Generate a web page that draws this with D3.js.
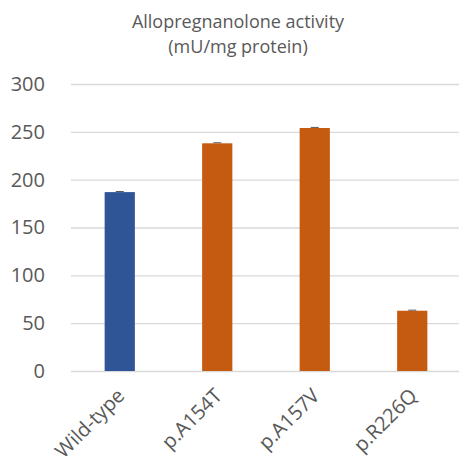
<!DOCTYPE html>
<html>
<head>
<meta charset="utf-8">
<script src="https://cdn.jsdelivr.net/npm/d3@7"></script>
<style>
  body { margin: 0; background: #fff; }
  text { font-family: "Open Sans", "Noto Sans", sans-serif; }
</style>
</head>
<body>
<div id="chart"></div>
<script>
const categories = ['Wild-type', 'p.A154T', 'p.A157V', 'p.R226Q'];
const values = [187, 238, 254, 63];
const errors = [0.6, 0.6, 0.6, 0.6];
const barColors = ['#2F5597', '#C55A11', '#C55A11', '#C55A11'];
const yTicks = [0, 50, 100, 150, 200, 250, 300];

const width = 459, height = 470;
const margin = {top: 84, right: -2, bottom: 99, left: 71};
const innerW = width - margin.left - margin.right;
const innerH = height - margin.top - margin.bottom;

const svg = d3.select('#chart').append('svg')
    .attr('width', width)
    .attr('height', height);

const chart = svg.append('g')
    .attr('transform', `translate(${margin.left},${margin.top})`);

const x = d3.scaleBand()
    .domain(categories)
    .range([0, innerW])
    .paddingInner(0.69)
    .paddingOuter(0.345);

const y = d3.scaleLinear()
    .domain([0, 300])
    .range([innerH, 0]);

// gridlines
chart.append('g')
    .call(d3.axisLeft(y).tickValues(yTicks).tickSize(-innerW).tickFormat(''))
    .call(g => g.select('.domain').remove())
    .call(g => g.selectAll('line').attr('stroke', '#d9d9d9').attr('stroke-width', 1.3));

// y axis labels
chart.append('g')
    .call(d3.axisLeft(y).tickValues(yTicks).tickSize(0).tickPadding(26))
    .call(g => g.select('.domain').remove())
    .call(g => g.selectAll('text')
        .attr('fill', '#595959')
        .style('font-size', '20px'));

// bars
chart.selectAll('.bar')
    .data(categories)
    .enter().append('rect')
    .attr('class', 'bar')
    .attr('x', d => x(d))
    .attr('y', (d, i) => y(values[i]))
    .attr('width', x.bandwidth())
    .attr('height', (d, i) => innerH - y(values[i]))
    .attr('fill', (d, i) => barColors[i]);

// error bars (tiny)
chart.selectAll('.err')
    .data(categories)
    .enter().append('line')
    .attr('class', 'err')
    .attr('x1', d => x(d) + x.bandwidth() / 2 - 4)
    .attr('x2', d => x(d) + x.bandwidth() / 2 + 4)
    .attr('y1', (d, i) => y(values[i] + errors[i]))
    .attr('y2', (d, i) => y(values[i] + errors[i]))
    .attr('stroke', '#595959')
    .attr('stroke-width', 1);

// x axis labels
chart.append('g')
    .attr('transform', `translate(0,${innerH})`)
    .call(d3.axisBottom(x).tickSize(0).tickPadding(0))
    .call(g => g.select('.domain').remove())
    .call(g => g.selectAll('text')
        .attr('fill', '#595959')
        .style('font-size', '20px')
        .style('text-anchor', 'end')
        .attr('dy', 0)
        .attr('transform', 'translate(6,26) rotate(-45)'));

// title
svg.append('text')
    .attr('x', 238)
    .attr('y', 28)
    .attr('text-anchor', 'middle')
    .attr('fill', '#595959')
    .style('font-size', '18px')
    .text('Allopregnanolone activity');

svg.append('text')
    .attr('x', 238)
    .attr('y', 53)
    .attr('text-anchor', 'middle')
    .attr('fill', '#595959')
    .style('font-size', '18px')
    .text('(mU/mg protein)');
</script>
</body>
</html>
